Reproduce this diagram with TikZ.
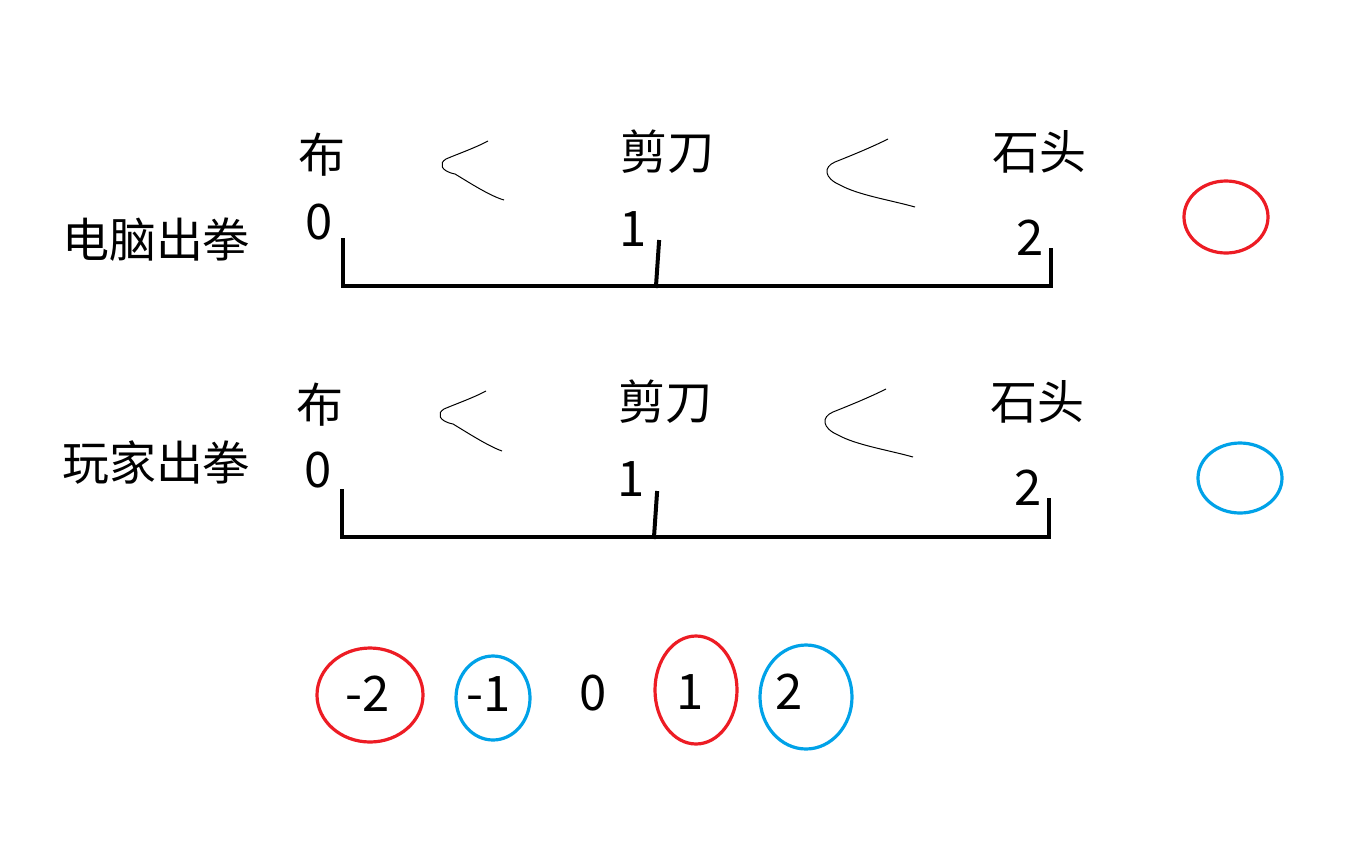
\documentclass[tikz,border=0pt]{standalone}
\usepackage{fontspec}
\setmainfont{Noto Sans CJK SC}
\definecolor{pred}{HTML}{ED1C24}
\definecolor{pblue}{HTML}{00A2E8}
\begin{document}
\begin{tikzpicture}[x=1pt,y=-1pt,
  lbl/.style={inner sep=0pt,font=\fontsize{47}{50}\selectfont},
  num/.style={inner sep=0pt,font=\fontsize{49}{52}\selectfont},
  axis/.style={line width=4pt,line cap=rect},
  stroke/.style={line width=1pt},
  ringred/.style={pred,line width=3.2pt},
  ringblue/.style={pblue,line width=3.2pt}]
\useasboundingbox (0,0) rectangle (1353,847);
\fill[white] (0,0) rectangle (1353,847);

% ---- top row: computer
\node[lbl] (ca) at (156,240) {电脑出拳};
\node[lbl] (cbu) at (322,155) {布};
\node[lbl] (cjd) at (667,152) {剪刀};
\node[lbl] (cst) at (1039,152) {石头};
\node[num] (c0) at (319,222) {0};
\node[num] (c1) at (633,229) {1};
\node[num] (c2) at (1030,238) {2};
\draw[axis] (343,240) -- (343,286) -- (1051,286) -- (1051,250);
\draw[axis] (659,242) -- (656,286);
\draw[stroke] (488,141) .. controls (475,148) and (455,155) .. (446,159)
  .. controls (439,163) and (440,171) .. (455,174)
  .. controls (470,183) and (490,196) .. (504,200);
\draw[stroke] (888,139) .. controls (870,148) and (850,156) .. (835,162)
  .. controls (823,167) and (824,178) .. (840,185)
  .. controls (858,195) and (890,200) .. (915,207);

% ---- second row: player
\node[lbl] (pa) at (156,463) {玩家出拳};
\node[lbl] (pbu) at (320,405) {布};
\node[lbl] (pjd) at (665,402) {剪刀};
\node[lbl] (pst) at (1037,402) {石头};
\node[num] (p0) at (318,470) {0};
\node[num] (p1) at (631,479) {1};
\node[num] (p2) at (1028,488) {2};
\draw[axis] (342,491) -- (342,537) -- (1049,537) -- (1049,500);
\draw[axis] (657,493) -- (654,537);
\draw[stroke] (486,391) .. controls (473,398) and (453,405) .. (444,409)
  .. controls (437,413) and (438,421) .. (453,424)
  .. controls (468,433) and (488,446) .. (502,451);
\draw[stroke] (886,389) .. controls (868,398) and (848,406) .. (833,412)
  .. controls (821,417) and (822,428) .. (838,435)
  .. controls (856,445) and (888,450) .. (913,457);

% ---- side rings
\draw[ringred] (1226,217) ellipse [x radius=42,y radius=36];
\draw[ringblue] (1240,478) ellipse [x radius=42,y radius=35];

% ---- bottom numbers
\node[num] (m2) at (368,694) {-2};
\node[num] (m1) at (489,694) {-1};
\node[num] (z0) at (593,693) {0};
\node[num] (q1) at (690,692) {1};
\node[num] (q2) at (789,692) {2};
\draw[ringred] (370,695) ellipse [x radius=53,y radius=47];
\draw[ringblue] (493,698) ellipse [x radius=37,y radius=42];
\draw[ringred] (696,690) ellipse [x radius=41,y radius=54];
\draw[ringblue] (806,697) ellipse [x radius=46,y radius=52];
\end{tikzpicture}
\end{document}
